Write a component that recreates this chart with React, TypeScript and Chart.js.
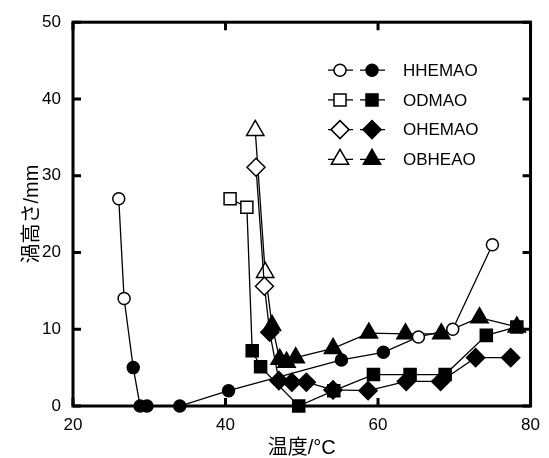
import React, { useEffect, useRef } from 'react';
import { Chart, registerables } from 'chart.js';

Chart.register(...registerables);

// ---- data ----
const seriesNames = ['HHEMAO', 'ODMAO', 'OHEMAO', 'OBHEAO'];

const hhemaoX = [26.0, 26.7, 27.9, 28.8, 29.7, 34.0, 40.4, 55.2, 60.7, 65.3, 69.8, 75.0];
const hhemaoY = [27.0, 14.0, 5.0, 0.0, 0.0, 0.0, 2.0, 6.0, 7.0, 9.0, 10.0, 21.0];
const hhemaoFilled = [false, false, true, true, true, true, true, true, true, false, false, false];

const odmaoX = [40.6, 42.8, 43.5, 44.6, 49.6, 54.2, 59.4, 64.2, 68.8, 74.2, 78.2];
const odmaoY = [27.0, 25.9, 7.2, 5.1, 0.0, 2.0, 4.1, 4.1, 4.1, 9.2, 10.3];
const odmaoFilled = [false, false, true, true, true, true, true, true, true, true, true];

const ohemaoX = [44.0, 45.1, 45.8, 47.0, 48.7, 50.6, 54.1, 58.7, 63.7, 68.2, 72.8, 77.4];
const ohemaoY = [31.1, 15.6, 9.6, 3.3, 3.1, 3.1, 2.1, 2.0, 3.2, 3.2, 6.3, 6.3];
const ohemaoFilled = [false, false, true, true, true, true, true, true, true, true, true, true];

const obheaoX = [43.9, 45.2, 46.1, 47.1, 48.0, 49.2, 54.1, 58.8, 63.6, 68.3, 73.3, 78.2];
const obheaoY = [35.9, 17.4, 10.5, 6.1, 5.7, 6.3, 7.5, 9.5, 9.4, 9.4, 11.5, 10.3];
const obheaoFilled = [false, false, true, true, true, true, true, true, true, true, true, true];

const xTickValues = [20, 40, 60, 80];
const yTickValues = [0, 10, 20, 30, 40, 50];

const xTitle = '温度/°C';
const yTitle = '渦高さ/mm';

const FONT = "'Liberation Sans', Arial, 'Noto Sans CJK JP', sans-serif";

type Style = 'circle' | 'rect' | 'rectRot' | 'triangle';
const styles: Style[] = ['circle', 'rect', 'rectRot', 'triangle'];
const radii = [6, 8.5, 9, 10];

function drawMarker(ctx: CanvasRenderingContext2D, style: Style, x: number, y: number, r: number, filled: boolean) {
  ctx.beginPath();
  if (style === 'circle') {
    ctx.arc(x, y, r, 0, Math.PI * 2);
  } else if (style === 'rect') {
    const s = r * Math.SQRT1_2;
    ctx.rect(x - s, y - s, 2 * s, 2 * s);
  } else if (style === 'rectRot') {
    ctx.moveTo(x, y - r);
    ctx.lineTo(x + r, y);
    ctx.lineTo(x, y + r);
    ctx.lineTo(x - r, y);
  } else {
    ctx.moveTo(x, y - r);
    ctx.lineTo(x + r * 0.866, y + r * 0.5);
    ctx.lineTo(x - r * 0.866, y + r * 0.5);
  }
  ctx.closePath();
  ctx.fillStyle = filled ? '#000' : '#fff';
  ctx.fill();
  ctx.lineWidth = 1.5;
  ctx.strokeStyle = '#000';
  ctx.stroke();
}

const framePlugin = {
  id: 'frame',
  beforeDatasetsDraw(chart: any) {
    const { ctx, chartArea: a, scales } = chart;
    const x = scales.x;
    const y = scales.y;
    ctx.save();
    ctx.strokeStyle = '#000';
    ctx.lineWidth = 3;
    ctx.strokeRect(a.left, a.top, a.right - a.left, a.bottom - a.top);
    const tl = 8;
    ctx.beginPath();
    for (const v of xTickValues) {
      const px = x.getPixelForValue(v);
      ctx.moveTo(px, a.bottom);
      ctx.lineTo(px, a.bottom - tl);
      ctx.moveTo(px, a.top);
      ctx.lineTo(px, a.top + tl);
    }
    for (const v of yTickValues) {
      const py = y.getPixelForValue(v);
      ctx.moveTo(a.left, py);
      ctx.lineTo(a.left + tl, py);
      ctx.moveTo(a.right, py);
      ctx.lineTo(a.right - tl, py);
    }
    ctx.stroke();
    ctx.restore();
  },
};

const legendPlugin = {
  id: 'customLegend',
  afterDatasetsDraw(chart: any) {
    const { ctx, chartArea: a } = chart;
    ctx.save();
    const baseX = a.left + 267; // open marker x
    const rowY0 = a.top + 48;
    const rowGap = 29.7;
    seriesNames.forEach((name, i) => {
      const cy = rowY0 + i * rowGap;
      const ox = baseX;
      const fx = baseX + 32;
      ctx.strokeStyle = '#000';
      ctx.lineWidth = 1.3;
      ctx.beginPath();
      ctx.moveTo(ox - 12, cy);
      ctx.lineTo(ox + 13, cy);
      ctx.moveTo(fx - 12, cy);
      ctx.lineTo(fx + 13, cy);
      ctx.stroke();
      drawMarker(ctx, styles[i], ox, cy, radii[i], false);
      drawMarker(ctx, styles[i], fx, cy, radii[i], true);
      ctx.fillStyle = '#000';
      ctx.font = `17px ${FONT}`;
      ctx.textAlign = 'left';
      ctx.textBaseline = 'middle';
      ctx.fillText(name, baseX + 63, cy + 1);
    });
    ctx.restore();
  },
};

function makeDataset(i: number, xs: number[], ys: number[], filled: boolean[]) {
  return {
    label: seriesNames[i],
    data: xs.map((x, k) => ({ x, y: ys[k] })),
    showLine: true,
    borderColor: '#000',
    borderWidth: 1.3,
    tension: 0,
    pointStyle: styles[i],
    pointRadius: radii[i],
    pointHoverRadius: radii[i],
    pointBackgroundColor: filled.map((f) => (f ? '#000' : '#fff')),
    pointBorderColor: '#000',
    pointBorderWidth: 1.5,
    clip: false as any,
  };
}

export default function App() {
  const ref = useRef<HTMLCanvasElement | null>(null);
  useEffect(() => {
    document.body.style.margin = '0';
    if (!ref.current) return;
    const chart = new Chart(ref.current, {
      type: 'scatter',
      data: {
        datasets: [
          makeDataset(0, hhemaoX, hhemaoY, hhemaoFilled),
          makeDataset(1, odmaoX, odmaoY, odmaoFilled),
          makeDataset(2, ohemaoX, ohemaoY, ohemaoFilled),
          makeDataset(3, obheaoX, obheaoY, obheaoFilled),
        ],
      },
      options: {
        animation: false,
        responsive: false,
        devicePixelRatio: 1,
        layout: { padding: { left: 0, top: 15, right: 12, bottom: 0 } },
        plugins: { legend: { display: false }, tooltip: { enabled: false } },
        scales: {
          x: {
            type: 'linear',
            min: 20,
            max: 80,
            grid: { display: false, drawTicks: false },
            border: { display: false },
            ticks: {
              stepSize: 20,
              padding: 9,
              color: '#000',
              font: { family: FONT, size: 17 },
              maxRotation: 0,
            },
            title: {
              display: true,
              text: xTitle,
              color: '#000',
              font: { family: FONT, size: 20, lineHeight: 1 },
              padding: { top: 0, bottom: 0 },
            },
            afterFit(scale: any) {
              scale.height = 52;
            },
          },
          y: {
            type: 'linear',
            min: 0,
            max: 50,
            grid: { display: false, drawTicks: false },
            border: { display: false },
            ticks: {
              stepSize: 10,
              padding: 12,
              color: '#000',
              font: { family: FONT, size: 17 },
            },
            title: {
              display: true,
              text: yTitle,
              color: '#000',
              font: { family: FONT, size: 20, lineHeight: 1.2 },
              padding: { top: 20, bottom: 0 },
            },
            afterFit(scale: any) {
              scale.width = 73;
            },
          },
        },
      },
      plugins: [framePlugin, legendPlugin],
    });
    return () => chart.destroy();
  }, []);
  return (
    <div style={{ position: 'absolute', left: 0, top: 0, width: 549, height: 458 }}>
      <canvas ref={ref} width={549} height={458} style={{ display: 'block' }} />
    </div>
  );
}
